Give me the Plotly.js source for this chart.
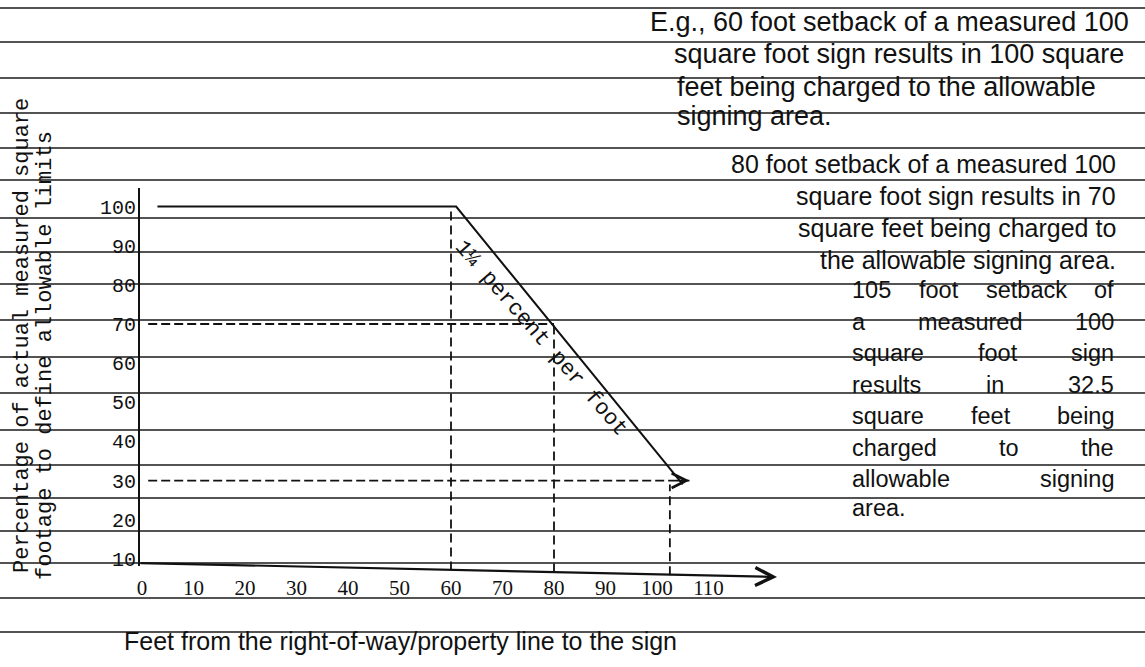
<!DOCTYPE html>
<html><head><meta charset="utf-8">
<script src="https://cdn.plot.ly/plotly-3.0.1.min.js"></script>
<style>html,body{margin:0;padding:0;background:#fff;}#chart{width:1145px;height:667px;}</style>
</head><body><div id="chart"></div>
<script>
// ---- data ----
const xTickVals = [0,10,20,30,40,50,60,70,80,90,100,110];
const xTickText = ["0","10","20","30","40","50","60","70","80","90","100","110"];
const yTickVals = [10,20,30,40,50,60,70,80,90,100];
const yTickText = ["10","20","30","40","50","60","70","80","90","100"];
// charged percentage vs setback
const profileX = [3, 61, 105];
const profileY = [100, 100, 29];
// example drop lines (setback, percent)
const dropX = [60, 80, 102.5];
const dropTopY = [100, 70, 29];
const dropBottomY = [7, 6.5, 5.8];
// example horizontal guide lines
const guideY = [70, 30];
const guideStartX = [1.2, 1.2];
const guideEndX = [80, 106.3];
const guideArrow = [false, true];

const block1 = ["E.g., 60 foot setback of a measured 100","square foot sign results in 100 square","feet being charged to the allowable","signing area."];
const block2 = ["80 foot setback of a measured 100","square foot sign results in 70","square feet being charged to","the allowable signing area."];
const block3 = ["105 foot setback of","a measured 100","square foot sign","results in 32.5","square feet being","charged to the","allowable signing","area."];
const yTitle1 = "Percentage of actual measured square";
const yTitle2 = "footage to define allowable limits";
const xTitle = "Feet from the right-of-way/property line to the sign";
const slopeLabel = "1¼ percent per foot";

// ---- layout helpers (pixel -> paper) ----
const W = 1145, H = 667;
const px = v => v / W;
const py = v => 1 - v / H;
const ruled = [8, 42, 78, 113, 148, 180, 218, 252, 284, 320, 357, 393, 430, 465, 498, 531, 563, 598, 632];

const ink = "#111";
const sansFam = "Liberation Sans, Arial, sans-serif";
const monoFam = "Liberation Mono, DejaVu Sans Mono, monospace";
const font1 = {family: sansFam, size: 27, color: ink};
const font2 = {family: sansFam, size: 25, color: ink};
const font3 = {family: sansFam, size: 23.5, color: ink};

const traces = [];
traces.push({x: profileX, y: profileY, mode: "lines", line: {color: ink, width: 2}, hoverinfo: "skip"});
for (let i = 0; i < dropX.length; i++) {
  traces.push({x: [dropX[i], dropX[i]], y: [dropBottomY[i], dropTopY[i]], mode: "lines",
    line: {color: ink, width: 1.8, dash: "9px,5px"}, hoverinfo: "skip"});
}
for (let i = 0; i < guideY.length; i++) {
  traces.push({x: [guideStartX[i], guideEndX[i]], y: [guideY[i], guideY[i]], mode: "lines",
    line: {color: ink, width: 1.8, dash: "9px,4px"}, hoverinfo: "skip"});
}

const shapes = ruled.map(v => ({type: "line", xref: "paper", yref: "paper", x0: 0, x1: 1, y0: py(v), y1: py(v),
  line: {color: "#1a1a1a", width: 1.6}, layer: "below"}));
// hand-drawn y axis
shapes.push({type: "line", xref: "paper", yref: "paper", x0: px(139), x1: px(139), y0: py(188), y1: py(566), line: {color: ink, width: 2}});

const annotations = [];
// x axis arrow (slanted)
annotations.push({xref: "paper", yref: "paper", x: px(777), y: py(577), ax: -(777 - 139), ay: -(577 - 563),
  showarrow: true, arrowhead: 5, arrowsize: 1.6, arrowwidth: 2.2, arrowcolor: ink, text: ""});
// arrow on guide lines
for (let i = 0; i < guideY.length; i++) {
  if (guideArrow[i]) annotations.push({x: guideEndX[i], y: guideY[i], ax: -14, ay: 0, showarrow: true,
    arrowhead: 5, arrowsize: 1.6, arrowwidth: 1.8, arrowcolor: ink, text: ""});
}
// y title
annotations.push({xref: "paper", yref: "paper", x: px(22), y: py(336), xanchor: "center", yanchor: "middle", text: yTitle1, showarrow: false, textangle: -90,
  font: {family: monoFam, size: 22, color: ink}});
annotations.push({xref: "paper", yref: "paper", x: px(45), y: py(356), xanchor: "center", yanchor: "middle", text: yTitle2, showarrow: false, textangle: -90,
  font: {family: monoFam, size: 22, color: ink}});
// x title
annotations.push({xref: "paper", yref: "paper", x: px(122), y: py(641), xanchor: "left", yanchor: "middle", text: xTitle, showarrow: false,
  font: {family: sansFam, size: 25, color: ink}});
// slope label
annotations.push({xref: "paper", yref: "paper", x: px(541), y: py(338), xanchor: "center", yanchor: "middle", text: slopeLabel, showarrow: false, textangle: 49,
  font: {family: monoFam, size: 22, color: ink}});

// text blocks
const ctx = document.createElement("canvas").getContext("2d");
ctx.font = font3.size + "px 'Liberation Sans'";
const b1Left = [648, 672, 675, 675], b1Y = [22, 54, 87, 116];
block1.forEach((t, i) => annotations.push({xref: "paper", yref: "paper", x: px(b1Left[i]), y: py(b1Y[i]), xanchor: "left", yanchor: "middle", text: t, showarrow: false, font: font1}));
const b2Y = [164, 196, 228, 260];
block2.forEach((t, i) => annotations.push({xref: "paper", yref: "paper", x: px(1118), y: py(b2Y[i]), xanchor: "right", yanchor: "middle", text: t, showarrow: false, font: font2}));
const b3Y = [290, 322, 353, 385, 416, 448, 479, 508];
const L3 = 850, R3 = 1112;
block3.forEach((t, i) => {
  const words = t.split(" ");
  if (words.length === 1) {
    annotations.push({xref: "paper", yref: "paper", x: px(L3), y: py(b3Y[i]), xanchor: "left", yanchor: "middle", text: t, showarrow: false, font: font3});
    return;
  }
  const widths = words.map(w => ctx.measureText(w).width);
  const total = widths.reduce((a, b) => a + b, 0);
  const gap = (R3 - L3 - total) / (words.length - 1);
  let cx = L3;
  words.forEach((w, j) => {
    annotations.push({xref: "paper", yref: "paper", x: px(cx), y: py(b3Y[i]), xanchor: "left", yanchor: "middle", text: w, showarrow: false, font: font3});
    cx += widths[j] + gap;
  });
});

const xPix0 = 142, xPix1 = 900, xScale = 5.15;
const yPix0 = 598, yPix1 = 180, yScale = 3.914;

const layout = {
  width: W, height: H,
  margin: {l: 0, r: 0, t: 0, b: 0},
  paper_bgcolor: "#fff", plot_bgcolor: "rgba(0,0,0,0)",
  showlegend: false,
  xaxis: {domain: [px(xPix0), px(xPix1)], range: [0, (xPix1 - xPix0) / xScale], showgrid: false, zeroline: false, showline: false,
    tickvals: xTickVals, ticktext: xTickText, ticks: "", anchor: "free", position: py(573),
    tickfont: {family: "Liberation Serif, serif", size: 21, color: ink}},
  yaxis: {domain: [py(yPix0), py(yPix1)], range: [0, (yPix0 - yPix1) / yScale], showgrid: false, zeroline: false, showline: false,
    tickvals: yTickVals, ticktext: yTickText, ticks: "", ticklabelstandoff: 3, anchor: "free", position: px(139),
    tickfont: {family: monoFam, size: 20, color: ink}},
  shapes: shapes,
  annotations: annotations
};
Plotly.newPlot("chart", traces, layout, {displayModeBar: false, staticPlot: true});
</script></body></html>
